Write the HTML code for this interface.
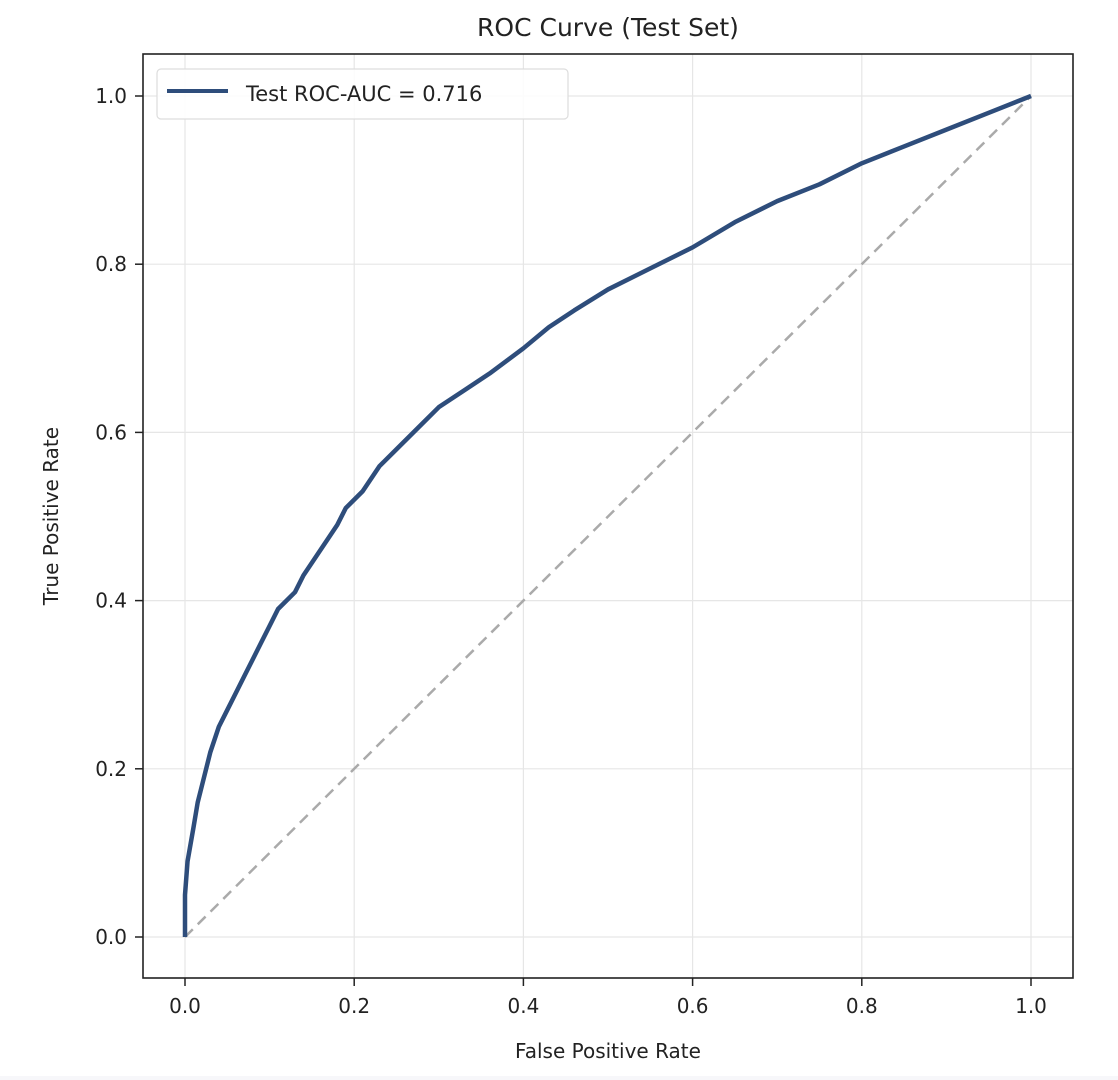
<!DOCTYPE html>
<html><head><meta charset="utf-8"><style>
body{margin:0;background:#fff;}
svg{display:block;font-family:"DejaVu Sans","Liberation Sans",sans-serif;}
</style></head><body>
<svg id="chart" width="1118" height="1080">
<rect x="0" y="1076" width="1118" height="4" fill="#f7f7fa"/>
<text x="608" y="36" font-size="25" text-anchor="middle" fill="#222">ROC Curve (Test Set)</text>
<g id="grid"></g>
<g id="axes"></g>
<g id="plot"></g>
<rect x="143" y="54" width="930" height="924" fill="none" stroke="#222" stroke-width="1.6"/>
<text x="608" y="1058" font-size="20" text-anchor="middle" fill="#222">False Positive Rate</text>
<text transform="translate(58,516) rotate(-90)" font-size="20" text-anchor="middle" fill="#222">True Positive Rate</text>
<g>
<rect x="157" y="69" width="411" height="50" rx="4" fill="#fff" fill-opacity="0.85" stroke="#ddd" stroke-width="1.2"/>
<line x1="167" y1="91" x2="228" y2="91" stroke="#2e4d7b" stroke-width="4"/>
<text x="246" y="101" font-size="21" fill="#222">Test ROC-AUC = 0.716</text>
</g>
</svg>
<script>
const xTicks=[0,0.2,0.4,0.6,0.8,1.0];
const yTicks=[0,0.2,0.4,0.6,0.8,1.0];
const fpr=[0,0,0.003,0.01,0.015,0.02,0.03,0.04,0.05,0.06,0.07,0.08,0.09,0.1,0.11,0.13,0.14,0.16,0.18,0.19,0.21,0.23,0.25,0.28,0.3,0.33,0.36,0.4,0.43,0.46,0.5,0.55,0.6,0.65,0.7,0.75,0.8,0.85,0.9,0.95,1];
const tpr=[0,0.05,0.09,0.13,0.16,0.18,0.22,0.25,0.27,0.29,0.31,0.33,0.35,0.37,0.39,0.41,0.43,0.46,0.49,0.51,0.53,0.56,0.58,0.61,0.63,0.65,0.67,0.70,0.725,0.745,0.77,0.795,0.82,0.85,0.875,0.895,0.92,0.94,0.96,0.98,1];
const NS='http://www.w3.org/2000/svg';
const X=v=>185+v*846, Y=v=>937-v*841;
function mk(t,a,p){const e=document.createElementNS(NS,t);for(const k in a)e.setAttribute(k,a[k]);p.appendChild(e);return e;}
const g=document.getElementById('grid'),ax=document.getElementById('axes'),pl=document.getElementById('plot');
xTicks.forEach(v=>{
 const l=mk('line',{x1:X(v),x2:X(v),y1:54,y2:978,stroke:'#e6e6e6','stroke-width':1.2},g);
 
 
 const t=mk('line',{x1:X(v),x2:X(v),y1:978,y2:986,stroke:'#222','stroke-width':1.5},ax);
 
 
 const s=mk('text',{x:X(v),y:1013,'font-size':20,'text-anchor':'middle',fill:'#222'},ax);
 s.textContent=v.toFixed(1);
 
 
});
yTicks.forEach(v=>{
 const l=mk('line',{x1:143,x2:1073,y1:Y(v),y2:Y(v),stroke:'#e6e6e6','stroke-width':1.2},g);
 
 
 const t=mk('line',{x1:135,x2:143,y1:Y(v),y2:Y(v),stroke:'#222','stroke-width':1.5},ax);
 
 
 const s=mk('text',{x:127,y:Y(v)+7,'font-size':20,'text-anchor':'end',fill:'#222'},ax);
 s.textContent=v.toFixed(1);
 
 
});
const d=mk('line',{x1:X(0),y1:Y(0),x2:X(1),y2:Y(1),stroke:'#aaa','stroke-width':2.5,'stroke-dasharray':'11,7'},pl);


const p=mk('path',{d:fpr.map((v,i)=>(i?'L':'M')+X(v)+','+Y(tpr[i])).join(''),fill:'none',stroke:'#2e4d7b','stroke-width':4.5,'stroke-linejoin':'round'},pl);


</script>
</body></html>
